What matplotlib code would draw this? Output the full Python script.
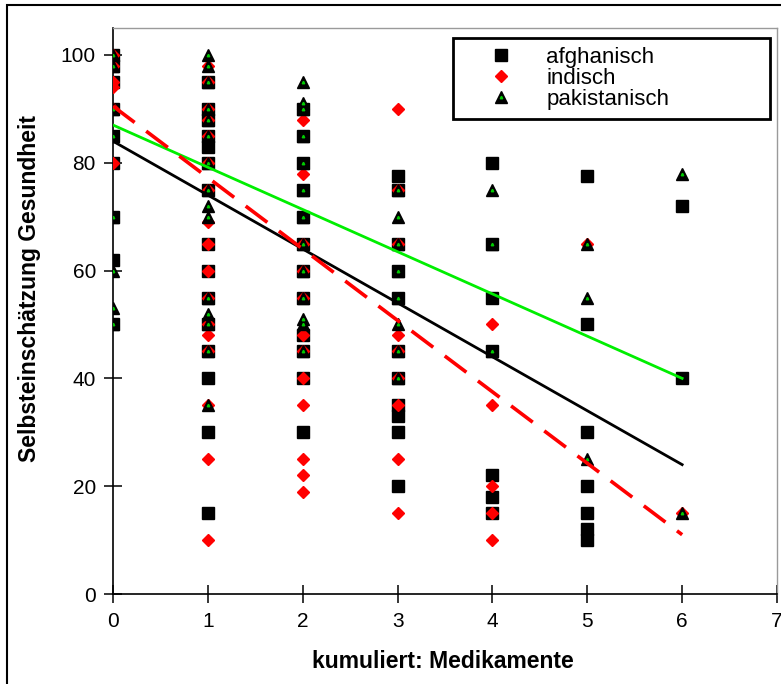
import matplotlib
matplotlib.use("Agg")
import matplotlib.pyplot as plt
from matplotlib.lines import Line2D
from matplotlib.patches import Rectangle

plt.rcParams["font.family"] = ["Liberation Sans", "DejaVu Sans"]

# afghanisch (squares): x = number of medications, y = self-rated health
afg_x = [0] * 9 + [1] * 15 + [2] * 12 + [3] * 11 + [4] * 7 + [5] * 7 + [6] * 2
afg_y = [100, 98, 95, 90, 85, 80, 70, 62, 50,
         95, 90, 88, 85, 83, 80, 75, 65, 60, 55, 50, 45, 40, 30, 15,
         90, 85, 80, 75, 70, 65, 60, 55, 48, 45, 40, 30,
         77.5, 75, 65, 60, 55, 45, 40, 35, 33, 30, 20,
         80, 65, 55, 45, 22, 18, 15,
         77.5, 50, 30, 20, 15, 12, 10,
         72, 40]

# indisch (diamonds)
ind_x = [0] * 6 + [1] * 17 + [2] * 12 + [3] * 9 + [4] * 5 + [5] * 1 + [6] * 1
ind_y = [100, 98, 95, 94, 90, 80,
         98, 95, 90, 88, 85, 80, 75, 69, 65, 60, 55, 50, 48, 45, 35, 25, 10,
         88, 78, 65, 60, 55, 48, 45, 40, 35, 25, 22, 19,
         90, 75, 65, 48, 45, 40, 35, 25, 15,
         50, 35, 20, 15, 10,
         65,
         15]

# pakistanisch (triangles)
pak_x = [0] * 8 + [1] * 15 + [2] * 13 + [3] * 8 + [4] * 3 + [5] * 3 + [6] * 2
pak_y = [100, 98, 90, 85, 70, 60, 53, 50,
         100, 98, 95, 90, 88, 85, 80, 75, 72, 70, 55, 52, 50, 45, 35,
         95, 91, 90, 85, 80, 75, 70, 65, 60, 55, 51, 50, 45,
         75, 70, 65, 60, 55, 50, 45, 40,
         75, 65, 45,
         65, 55, 25,
         78, 15]

# linear trend lines (end points)
trend_x = [0, 6]
afg_trend = [84, 24]
ind_trend = [90.5, 11]
pak_trend = [87, 40]

labels = ["afghanisch", "indisch", "pakistanisch"]

fig = plt.figure(figsize=(7.81, 6.84), dpi=100)
ax = fig.add_axes([113 / 781, 1 - 594 / 684, 664 / 781, 566 / 684])

ax.plot(afg_x, afg_y, "s", color="black", markersize=8.5, linestyle="none", zorder=2)
ax.plot(ind_x, ind_y, "D", color="red", markersize=6.5, linestyle="none", zorder=3)
ax.plot(pak_x, pak_y, "^", color="black", markersize=9, linestyle="none", zorder=4)
ax.plot(pak_x, pak_y, "^", color="#00cc00", markersize=1.8, linestyle="none", zorder=4.5)

ax.plot(trend_x, afg_trend, color="black", linewidth=2, zorder=5)
ax.plot(trend_x, pak_trend, color="#00ee00", linewidth=2, zorder=5)
ax.plot(trend_x, ind_trend, color="red", linewidth=2.6, dashes=(7.5, 4), zorder=5)

ax.set_xlim(0, 7)
ax.set_ylim(0, 105)
ax.set_xticks(range(0, 8))
ax.set_yticks(range(0, 101, 20))
ax.tick_params(direction="inout", length=13.5, width=1.1, labelsize=15, color="black")
ax.tick_params(axis="y", pad=5.5)
ax.tick_params(axis="x", pad=6.5)

for s in ["left", "bottom"]:
    ax.spines[s].set_color("black")
    ax.spines[s].set_linewidth(1.2)
for s in ["top", "right"]:
    ax.spines[s].set_color("#9a9a9a")
    ax.spines[s].set_linewidth(1)

ax.set_xlabel("kumuliert: Medikamente", fontsize=16.5, fontweight="bold", va="center")
ax.xaxis.set_label_coords(0.497, -0.12)
ax.set_ylabel("Selbsteinschätzung Gesundheit", fontsize=16.5, fontweight="bold", va="center")
ax.yaxis.set_label_coords(-0.125, 0.54)

h_afg = Line2D([], [], marker="s", color="black", markersize=8.5, linestyle="none")
h_ind = Line2D([], [], marker="D", color="red", markersize=6.5, linestyle="none")
h_pak1 = Line2D([], [], marker="^", color="black", markersize=9, linestyle="none")
h_pak2 = Line2D([], [], marker="^", color="#00cc00", markersize=1.8, linestyle="none")
leg = ax.legend([h_afg, h_ind, (h_pak1, h_pak2)], labels,
                loc="upper left", bbox_to_anchor=(0.512, 0.982, 0.477, 0.0),
                mode="expand", fontsize=16, frameon=True, fancybox=False,
                edgecolor="black", framealpha=1, labelspacing=0.0,
                handlelength=3.5, handletextpad=0.3, borderpad=0.4,
                borderaxespad=0.0)
leg.get_frame().set_linewidth(2)

# outer chart frame
fig.patches.append(Rectangle((7 / 781, -0.1), 1.2, 1 - 5 / 684 + 0.1,
                             transform=fig.transFigure, fill=False,
                             edgecolor="black", linewidth=1.5))

fig.savefig("out.png", dpi=100)
